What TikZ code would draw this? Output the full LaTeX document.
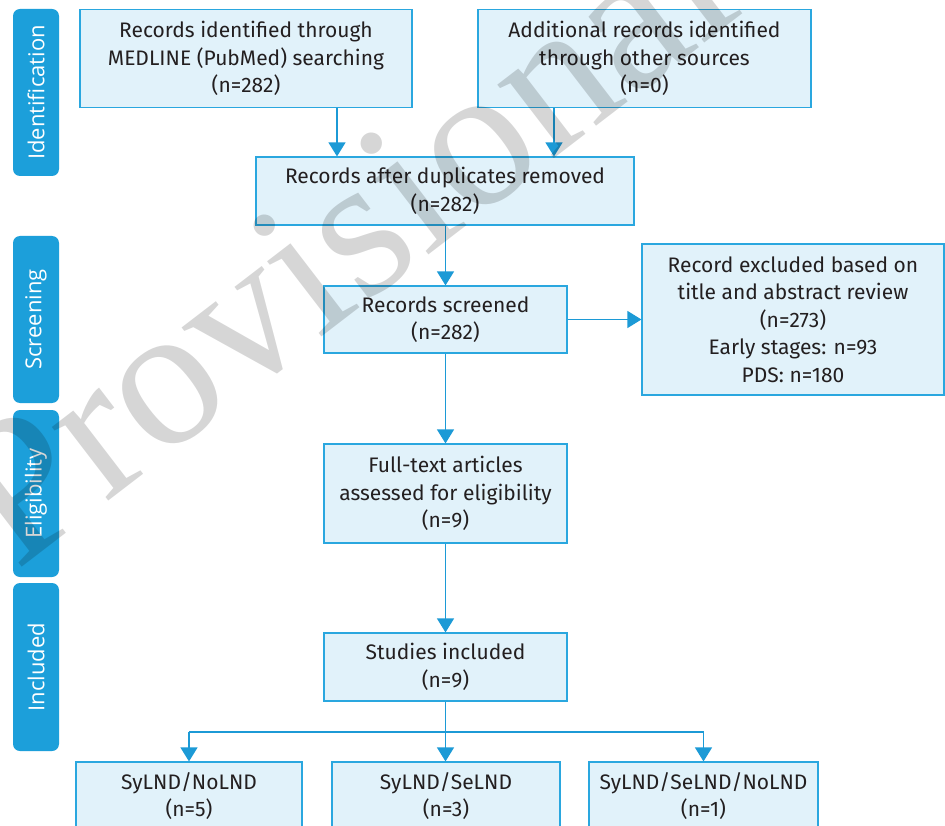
\documentclass[tikz,border=0pt]{standalone}
\usepackage{fontspec}
\setmainfont{Fira Sans}
\newfontfamily\labfont{Open Sans}
\newfontfamily\wmfont{Liberation Serif}
\usetikzlibrary{arrows.meta}
\definecolor{boxfill}{HTML}{E1F2FA}
\definecolor{boxline}{HTML}{2AA7DF}
\definecolor{arrowc}{HTML}{1C9AD6}
\definecolor{labfill}{HTML}{1C9FDA}
\definecolor{txt}{HTML}{231F20}
\begin{document}
\begin{tikzpicture}[x=1pt,y=-1pt,
  box/.style={draw=boxline, fill=boxfill, line width=1.2pt, inner sep=0pt, align=center, text=txt, font=\fontsize{21}{27.5}\selectfont},
  lab/.style={fill=labfill, rounded corners=7pt, inner sep=0pt, text=white, font=\labfont\fontsize{22}{26}\selectfont, rotate=90, minimum height=46pt},
  arr/.style={draw=arrowc, line width=1.3pt, -{Triangle[width=17pt,length=14pt]}},
  ln/.style={draw=arrowc, line width=1.3pt}]
\useasboundingbox (0,0) rectangle (945,826);
\clip (0,0) rectangle (945,826);
\fill[white] (0,0) rectangle (945,826);
% stage labels
\node[lab, minimum width=167pt] (l1) at (36,92.5) {Identification};
\node[lab, minimum width=167pt] (l2) at (36,319.5) {Screening};
\node[lab, minimum width=167pt] (l3) at (36,493.5) {Eligibility};
\node[lab, minimum width=168pt] (l4) at (36,667) {Included};
% boxes
\node[box, minimum width=332pt, minimum height=98pt] (b1) at (246,58.5) {Records identified through\\MEDLINE (PubMed) searching\\(n=282)};
\node[box, minimum width=333pt, minimum height=98pt] (b2) at (644.5,58.5) {Additional records identified\\through other sources\\(n=0)};
\node[box, minimum width=378pt, minimum height=68pt] (b3) at (445,191) {Records after duplicates removed\\(n=282)};
\node[box, minimum width=243pt, minimum height=67pt] (b4) at (445.5,319.5) {Records screened\\(n=282)};
\node[box, minimum width=302pt, minimum height=151pt] (b5) at (793,319.5) {Record excluded based on\\title and abstract review\\(n=273)\\Early stages: n=93\\PDS: n=180};
\node[box, minimum width=243pt, minimum height=99pt] (b6) at (445.5,493.5) {Full-text articles\\assessed for eligibility\\(n=9)};
\node[box, minimum width=243pt, minimum height=68pt] (b7) at (445.5,667) {Studies included\\(n=9)};
\node[box, minimum width=226pt, minimum height=68pt] (b8) at (189,796) {SyLND/NoLND\\(n=5)};
\node[box, minimum width=228pt, minimum height=68pt] (b9) at (446,796) {SyLND/SeLND\\(n=3)};
\node[box, minimum width=229pt, minimum height=68pt] (b10) at (703.5,796) {SyLND/SeLND/NoLND\\(n=1)};
% connectors
\coordinate (c1) at (337,0);
\coordinate (c2) at (554,0);
\coordinate (br) at (445.5,732);
\draw[arr] (b1.south -| c1) -- (b3.north -| c1);
\draw[arr] (b2.south -| c2) -- (b3.north -| c2);
\draw[arr] (b3.south -| b4.north) -- (b4.north);
\draw[arr] (b4.east) -- (b5.west);
\draw[arr] (b4.south) -- (b6.north);
\draw[arr] (b6.south) -- (b7.north);
\draw[arr] (b7.south) -- (b9.north -| b7.south);
\draw[ln] (br -| b8.north) -- (br -| b10.north);
\draw[arr] (br -| b8.north) -- (b8.north);
\draw[arr] (br -| b10.north) -- (b10.north);
% watermark
\node[rotate=37.5, anchor=base west, inner sep=0pt, text=black, text opacity=0.16, font=\wmfont\fontsize{202}{202}\selectfont] (wm) at (16,572) {Provisional};
\end{tikzpicture}
\end{document}
